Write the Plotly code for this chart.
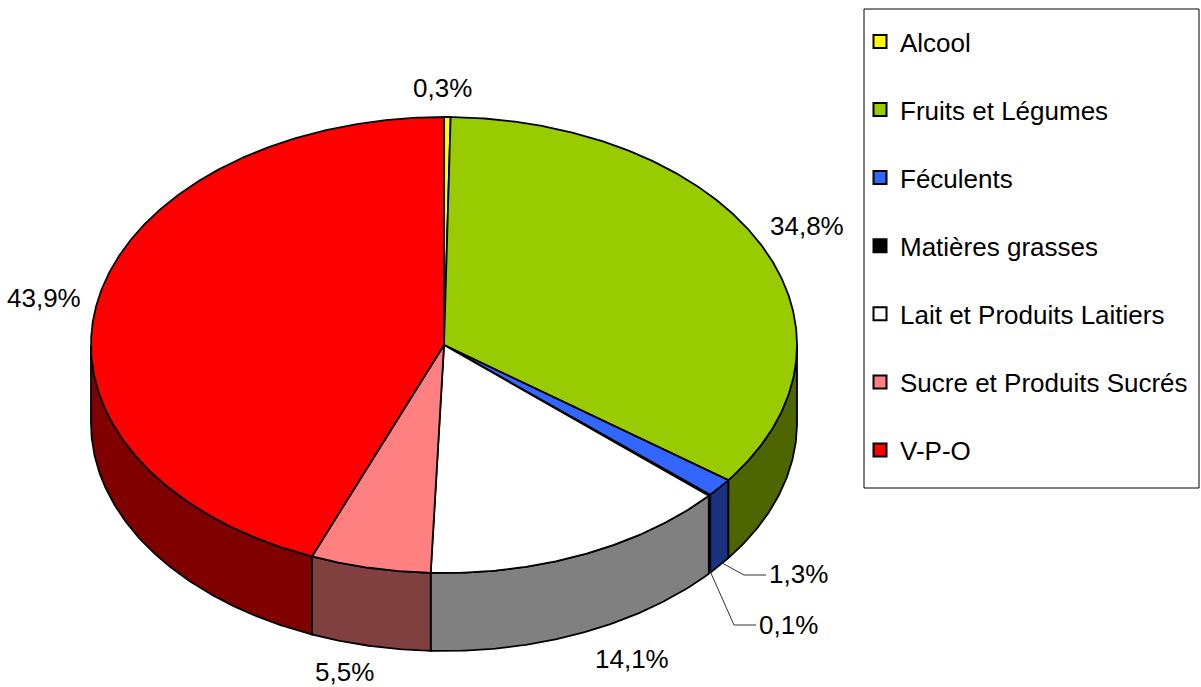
import numpy as np
import plotly.graph_objects as go

# --- Data
CATEGORIES = ["Alcool", "Fruits et Légumes", "Féculents", "Matières grasses",
              "Lait et Produits Laitiers", "Sucre et Produits Sucrés", "V-P-O"]
VALUES = [0.3, 34.8, 1.3, 0.1, 14.1, 5.5, 43.9]
LABELS = ["0,3%", "34,8%", "1,3%", "0,1%", "14,1%", "5,5%", "43,9%"]

# --- Style
TOP_COLORS = ["#FFFF00", "#99CC00", "#3366FF", "#000000", "#FFFFFF", "#FF8080", "#FF0000"]
SIDE_COLORS = ["#808000", "#4D6600", "#1A3380", "#000000", "#808080", "#804040", "#800000"]
FONT = "Liberation Sans"
W, H = 1201, 687

# pie geometry, in pixels
CX, CY, RX, RY, DEPTH = 444, 345, 353, 228, 78


def rim(a0, a1, drop=0):
    # angles in degrees, clockwise from the top of the pie
    n = max(2, int(abs(a1 - a0) * 2) + 1)
    t = np.radians(np.linspace(a0, a1, n))
    return CX + RX * np.sin(t), CY - RY * np.cos(t) + drop


def edge(color):
    # the black sliver would swell under a full width outline
    return dict(color="black", width=0.5 if color == "#000000" else 1.8)


fig = go.Figure()
ends = np.cumsum(VALUES) / sum(VALUES) * 360
starts = np.concatenate([[0], ends[:-1]])

# visible wall of the cylinder: only the front half, 90 to 270 degrees
for a0, a1, color in zip(starts, ends, SIDE_COLORS):
    lo, hi = max(a0, 90), min(a1, 270)
    if lo >= hi:
        continue
    x1, y1 = rim(lo, hi)
    x2, y2 = rim(hi, lo, DEPTH)
    fig.add_trace(go.Scatter(
        x=np.concatenate([x1, x2, x1[:1]]), y=np.concatenate([y1, y2, y1[:1]]),
        mode="lines", fill="toself", fillcolor=color,
        line=edge(color), showlegend=False, hoverinfo="skip",
    ))

# top face
for a0, a1, color in zip(starts, ends, TOP_COLORS):
    x1, y1 = rim(a0, a1)
    fig.add_trace(go.Scatter(
        x=np.concatenate([[CX], x1, [CX]]), y=np.concatenate([[CY], y1, [CY]]),
        mode="lines", fill="toself", fillcolor=color,
        line=edge(color), showlegend=False, hoverinfo="skip",
    ))

# leader lines of the two small slices
for px, py in [([722, 744, 766], [563, 575, 575]), ([710, 734, 756], [571, 625, 625])]:
    fig.add_trace(go.Scatter(x=px, y=py, mode="lines", line=dict(color="#333333", width=1),
                             showlegend=False, hoverinfo="skip"))

# legend entries
for i, (name, color) in enumerate(zip(CATEGORIES, TOP_COLORS)):
    fig.add_trace(go.Scatter(
        x=[None], y=[None], mode="markers", name=name, legendgroup=str(i),
        marker=dict(symbol="square", size=13, color=color, line=dict(color="black", width=2)),
    ))

label_pos = [(442, 88), (807, 226), (798, 574), (788, 625), (632, 659), (344, 672), (44, 298)]
for text, (x, y) in zip(LABELS, label_pos):
    fig.add_annotation(x=x, y=y, text=text, showarrow=False,
                       font=dict(family=FONT, size=26, color="black"))

# legend frame drawn apart so the entries can sit closer to its left edge
fig.add_shape(type="rect", x0=864, x1=1199, y0=9, y1=488, layer="below",
              line=dict(color="black", width=1), fillcolor="white")

fig.update_layout(
    width=W, height=H,
    margin=dict(l=0, r=0, t=0, b=0),
    plot_bgcolor="white", paper_bgcolor="white",
    font=dict(family=FONT, size=26, color="black"),
    legend=dict(
        x=860 / W, y=1 - 18 / H, xanchor="left", yanchor="top",
        bgcolor="rgba(0,0,0,0)", borderwidth=0,
        tracegroupgap=31.3, itemclick=False, itemdoubleclick=False,
    ),
)
fig.update_xaxes(range=[0, W], visible=False, fixedrange=True)
fig.update_yaxes(range=[H, 0], visible=False, fixedrange=True)
fig.write_html("out.html", config=dict(displayModeBar=False),
               post_script="document.body.style.margin='0';")
